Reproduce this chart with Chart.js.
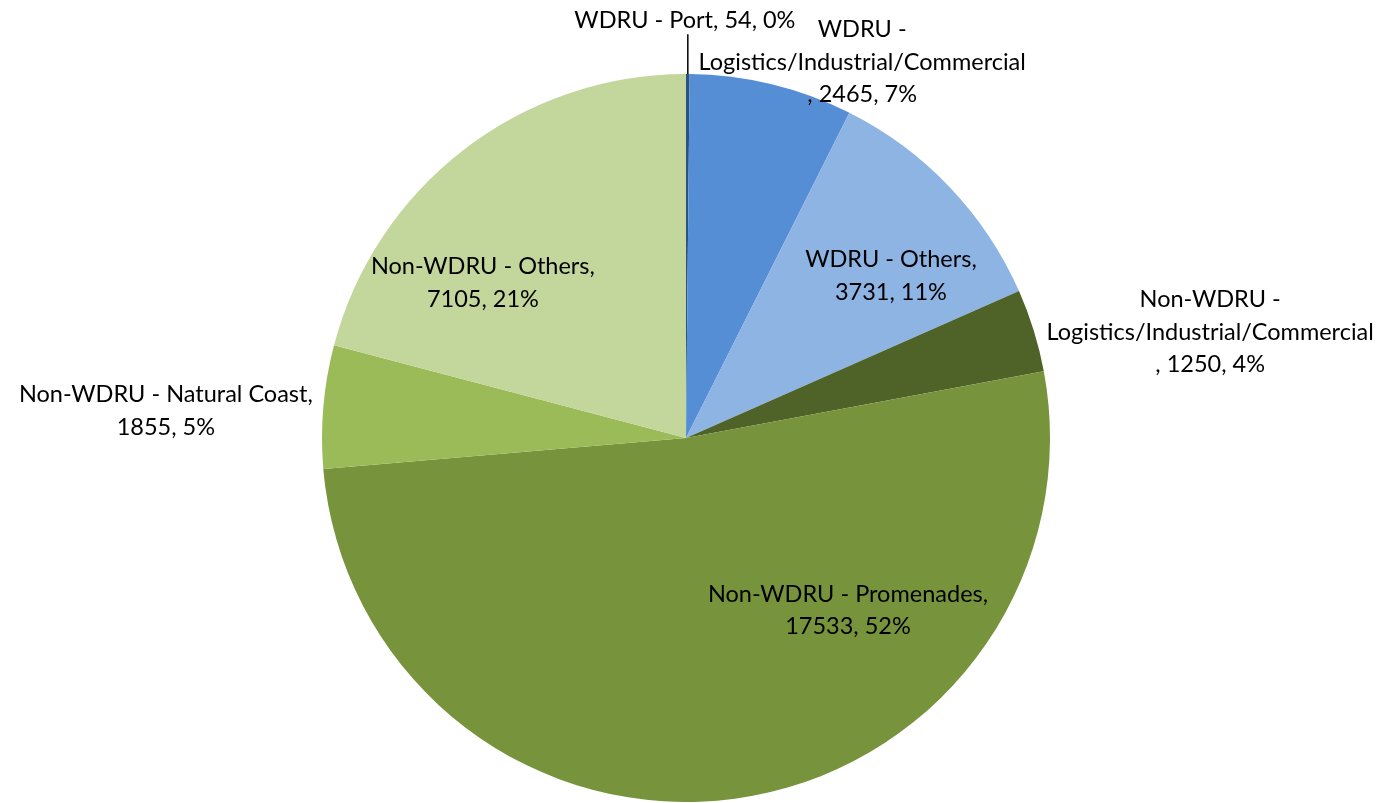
<!DOCTYPE html>
<html>
<head>
<meta charset="utf-8">
<script src="https://cdn.jsdelivr.net/npm/chart.js@4.4.1/dist/chart.umd.min.js"></script>
<style>
    html, body { margin: 0; padding: 0; background: #ffffff; }
    #wrap { width: 1384px; height: 803px; }
</style>
</head>
<body>
<div id="wrap"><canvas id="chartPie"></canvas></div>
<script>
// dados do gráfico
const categorias = [
    'WDRU - Port',
    'WDRU - Logistics/Industrial/Commercial',
    'WDRU - Others',
    'Non-WDRU - Logistics/Industrial/Commercial',
    'Non-WDRU - Promenades',
    'Non-WDRU - Natural Coast',
    'Non-WDRU - Others'
];
const valores = [54, 2465, 3731, 1250, 17533, 1855, 7105];
const cores = ['#2A5286', '#558ED5', '#8EB4E3', '#4F6228', '#77933C', '#9BBB59', '#C3D69B'];

// posição dos rótulos, em raios a partir do centro
const rotuloPos = [
    [-0.003, -1.148], [0.484, -1.033], [0.563, -0.445], [1.44, -0.291],
    [0.445, 0.473], [-1.429, -0.074], [-0.558, -0.426]
];
// quebra das linhas: 1 = uma linha, 2 = nome / valores, 3 = prefixo / resto / valores
const rotuloQuebra = [1, 3, 2, 3, 2, 2, 2];

const total = valores.reduce((a, b) => a + b, 0);

function linhasRotulo(i) {
    const nome = categorias[i];
    const pct = Math.round(valores[i] * 100 / total) + '%';
    if (rotuloQuebra[i] === 1) return [nome + ', ' + valores[i] + ', ' + pct];
    if (rotuloQuebra[i] === 3) {
        const partes = nome.split(' - ');
        return [partes[0] + ' -', partes[1], ', ' + valores[i] + ', ' + pct];
    }
    return [nome + ',', valores[i] + ', ' + pct];
}

const rotulosPlugin = {
    id: 'rotulos',
    afterDatasetsDraw(chart) {
        const ctx = chart.ctx;
        const meta = chart.getDatasetMeta(0);
        ctx.save();
        ctx.font = '23.5px Lato, "Open Sans", sans-serif';
        ctx.fillStyle = '#000';
        ctx.textAlign = 'center';
        ctx.textBaseline = 'middle';
        const lh = 32.5;
        meta.data.forEach((arc, i) => {
            const r = arc.outerRadius;
            const cx = arc.x + rotuloPos[i][0] * r;
            const cy = arc.y + rotuloPos[i][1] * r;
            const linhas = linhasRotulo(i);
            const y0 = cy - (linhas.length - 1) * lh / 2;
            linhas.forEach((l, k) => ctx.fillText(l, cx, y0 + k * lh));
            if (i === 0) {
                // linha guia da fatia pequena
                const meio = (arc.startAngle + arc.endAngle) / 2;
                const ex = arc.x + Math.cos(meio) * r;
                const ey = arc.y + Math.sin(meio) * r;
                ctx.strokeStyle = '#000';
                ctx.lineWidth = 1.5;
                ctx.beginPath();
                ctx.moveTo(ex, cy + 14);
                ctx.lineTo(ex, ey);
                ctx.stroke();
            }
        });
        ctx.restore();
    }
};

const ctxPie = document.getElementById('chartPie').getContext('2d');
const chartPie = new Chart(ctxPie, {
    type: 'pie',
    data: {
        labels: categorias,
        datasets: [{
            data: valores,
            backgroundColor: cores,
            borderWidth: 0
        }]
    },
    options: {
        responsive: true,
        maintainAspectRatio: false,
        animation: false,
        layout: { padding: { top: 74, bottom: 1, left: 0, right: 12 } },
        plugins: {
            legend: { display: false },
            tooltip: { enabled: false }
        }
    },
    plugins: [rotulosPlugin]
});
</script>
</body>
</html>
